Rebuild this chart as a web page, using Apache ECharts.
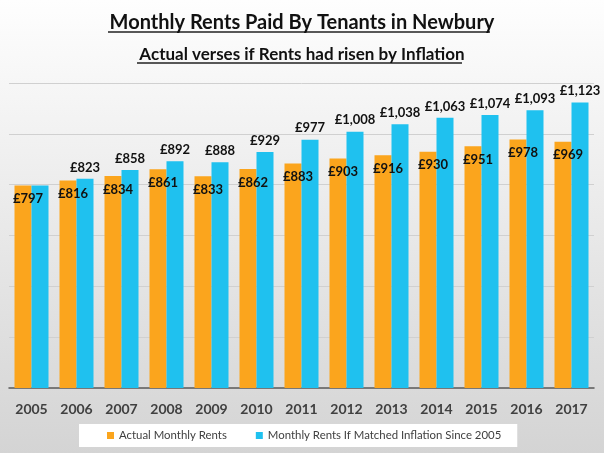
<!DOCTYPE html>
<html>
<head>
<meta charset="utf-8">
<script src="https://cdn.jsdelivr.net/npm/echarts@6/dist/echarts.min.js"></script>
<style>
  html, body { margin: 0; padding: 0; }
  #chart { width: 604px; height: 453px; }
</style>
</head>
<body>
<div id="chart"></div>
<script>
var years = ['2005', '2006', '2007', '2008', '2009', '2010', '2011', '2012', '2013', '2014', '2015', '2016', '2017'];
var actualRents = [797, 816, 834, 861, 833, 862, 883, 903, 916, 930, 951, 978, 969];
var inflationRents = [797, 823, 858, 892, 888, 929, 977, 1008, 1038, 1063, 1074, 1093, 1123];
var seriesNames = ['Actual Monthly Rents', 'Monthly Rents If Matched Inflation Since 2005'];

var font = 'Lato';
var money = function (p) { return '£' + p.value.toLocaleString('en-GB'); };

var chart = echarts.init(document.getElementById('chart'));

var option = {
    backgroundColor: {
        type: 'linear', x: 0, y: 0, x2: 0, y2: 1,
        colorStops: [
            { offset: 0, color: '#fefefe' },
            { offset: 1, color: '#d4d4d4' }
        ]
    },
    textStyle: { fontFamily: font },
    title: [{
        text: 'Monthly Rents Paid By Tenants in Newbury',
        left: 'center', top: 8,
        textStyle: { fontSize: 20, fontWeight: 'bold', color: '#111', fontFamily: font }
    }, {
        text: 'Actual verses if Rents had risen by Inflation',
        left: 'center', top: 41,
        textStyle: { fontSize: 17, fontWeight: 'bold', color: '#111', fontFamily: font }
    }],
    // underlines of the two headings
    graphic: [
        { type: 'line', shape: { x1: 108, y1: 32, x2: 490, y2: 32 }, style: { stroke: '#222', lineWidth: 1.5 } },
        { type: 'line', shape: { x1: 137, y1: 63, x2: 462, y2: 63 }, style: { stroke: '#222', lineWidth: 1.5 } }
    ],
    legend: {
        bottom: 6, left: 79,
        backgroundColor: '#fff',
        padding: [6, 16, 6, 28],
        itemWidth: 7, itemHeight: 7, itemGap: 29,
        icon: 'rect',
        textStyle: { fontSize: 11.4, color: '#404040', fontFamily: font }
    },
    grid: { left: 9, right: 10, top: 83, bottom: 65, containLabel: false },
    xAxis: {
        type: 'category',
        data: years,
        axisTick: { show: false },
        axisLine: { lineStyle: { color: '#595959', width: 1.5 } },
        axisLabel: { fontSize: 14, fontWeight: 'bold', color: '#404040', margin: 14, fontFamily: font }
    },
    yAxis: {
        type: 'value',
        min: 0, max: 1200, interval: 200,
        axisLabel: { show: false },
        axisLine: { show: false },
        axisTick: { show: false },
        splitLine: { lineStyle: { color: '#d0d0d0' } }
    },
    series: [{
        name: seriesNames[0],
        type: 'bar',
        data: actualRents,
        barWidth: 17,
        barGap: '0%',
        itemStyle: { color: '#fba51d' },
        label: {
            show: true, position: 'insideTop', distance: 7, offset: [5, 0],
            formatter: money,
            fontSize: 13, fontWeight: 'bold', color: '#111', fontFamily: font
        }
    }, {
        name: seriesNames[1],
        type: 'bar',
        data: inflationRents.map(function (v, i) {
            return i === 0 ? { value: v, label: { show: false } } : v;
        }),
        barWidth: 17,
        itemStyle: { color: '#1fc1ef' },
        label: {
            show: true, position: 'top', distance: 5,
            formatter: money,
            fontSize: 13, fontWeight: 'bold', color: '#111', fontFamily: font
        }
    }]
};

chart.setOption(option);
</script>
</body>
</html>
